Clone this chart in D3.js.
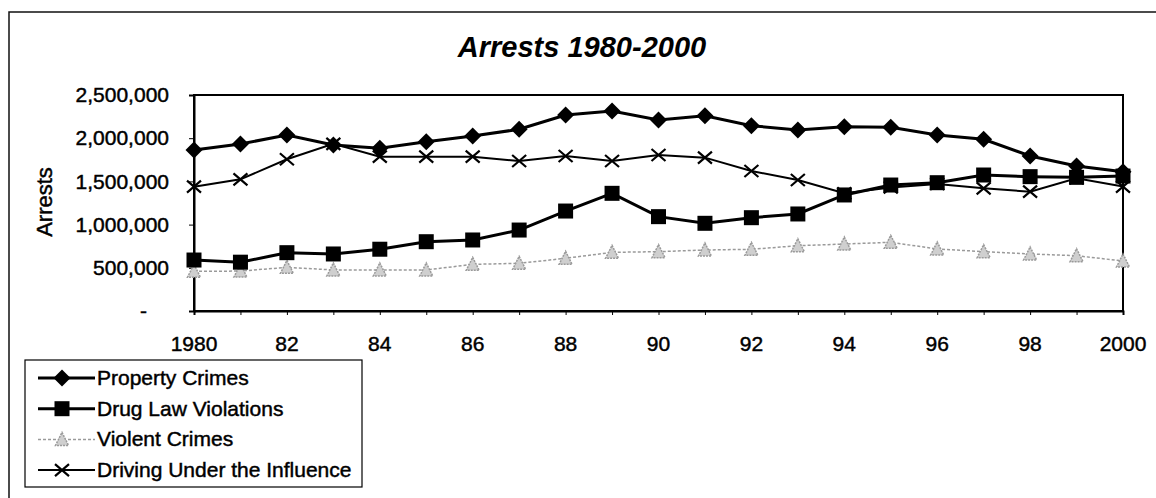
<!DOCTYPE html>
<html>
<head>
<meta charset="utf-8">
<script src="https://cdn.jsdelivr.net/npm/d3@7"></script>
<style>
  body { margin: 0; background: #fff; }
  svg { display: block; font-family: "Liberation Sans", Arial, sans-serif; }
  .scan { stroke: #000; stroke-width: 0.45px; }
</style>
</head>
<body>
<svg width="1156" height="498"></svg>
<script>
// data
const years = [1980,1981,1982,1983,1984,1985,1986,1987,1988,1989,1990,1991,1992,1993,1994,1995,1996,1997,1998,1999,2000];
const propertyCrimes = [1863000,1933000,2037000,1921000,1883000,1960000,2025000,2103000,2268000,2315000,2210000,2260000,2145000,2095000,2133000,2126000,2037000,1987000,1794000,1678000,1612000];
const drugViolations = [590000,565000,675000,660000,715000,802000,822000,937000,1157000,1362000,1092000,1015000,1080000,1123000,1343000,1458000,1485000,1574000,1555000,1547000,1562000];
const violentCrimes = [460000,462000,505000,475000,475000,475000,540000,552000,610000,679000,687000,706000,714000,756000,775000,795000,718000,687000,660000,640000,579000];
const duiArrests = [1439000,1524000,1756000,1935000,1786000,1786000,1786000,1736000,1794000,1736000,1806000,1775000,1620000,1516000,1362000,1430000,1470000,1420000,1381000,1536000,1440000];
const yTicks = [0,500000,1000000,1500000,2000000,2500000];
const xLabelYears = [1980,1982,1984,1986,1988,1990,1992,1994,1996,1998,2000];
const xLabels = ["1980","82","84","86","88","90","92","94","96","98","2000"];

const series = [
  {name:"Property Crimes", values:propertyCrimes, marker:"diamond", color:"#000", width:3, dash:null},
  {name:"Drug Law Violations", values:drugViolations, marker:"square", color:"#000", width:3, dash:null},
  {name:"Violent Crimes", values:violentCrimes, marker:"triangle", color:"#9a9a9a", width:1.5, dash:"3,2"},
  {name:"Driving Under the Influence", values:duiArrests, marker:"x", color:"#000", width:2, dash:null}
];

const svg = d3.select("svg");
const plot = {left:194, right:1123, top:95, bottom:311};

// outer chart frame (only top and left edges visible in the scan)
svg.append("rect")
  .attr("x", 9).attr("y", 12)
  .attr("width", 1300).attr("height", 700)
  .attr("fill", "none").attr("stroke", "#111").attr("stroke-width", 1.5);

const x = d3.scaleLinear().domain([1980, 2000]).range([plot.left, plot.right]);
const y = d3.scaleLinear().domain([0, 2500000]).range([plot.bottom, plot.top]);

// title
svg.append("text")
  .attr("x", 582).attr("y", 57)
  .attr("text-anchor", "middle")
  .attr("font-size", "29px").attr("font-weight", "bold").attr("font-style", "italic")
  .text("Arrests 1980-2000");

// y label
svg.append("text")
  .attr("class", "scan")
  .attr("transform", "translate(52,202) rotate(-90)")
  .attr("text-anchor", "middle")
  .attr("font-size", "22px")
  .text("Arrests");

// plot area border (top and right)
svg.append("rect")
  .attr("x", plot.left).attr("y", plot.top)
  .attr("width", plot.right - plot.left).attr("height", plot.bottom - plot.top)
  .attr("fill", "none").attr("stroke", "#000").attr("stroke-width", 2);

// y axis
const yAxis = svg.append("g")
  .attr("transform", `translate(${plot.left},0)`)
  .call(d3.axisLeft(y).tickValues(yTicks).tickSize(5).tickPadding(20)
    .tickFormat(d => d === 0 ? "-" : d3.format(",")(d)));
yAxis.select(".domain").attr("stroke-width", 2);
yAxis.selectAll("text").attr("class", "scan").attr("font-size", "21px").attr("fill", "#000")
  .attr("dx", d => d === 0 ? -22 : 0);

// x axis
const xAxis = svg.append("g")
  .attr("transform", `translate(0,${plot.bottom})`)
  .call(d3.axisBottom(x).tickValues(years).tickSize(4).tickFormat(""));
xAxis.select(".domain").attr("stroke-width", 2);
svg.append("g").selectAll("text")
  .data(xLabelYears)
  .enter().append("text")
  .attr("class", "scan")
  .attr("x", d => x(d))
  .attr("y", 351)
  .attr("text-anchor", "middle")
  .attr("font-size", "21px")
  .text((d, i) => xLabels[i]);

// marker drawing
function drawMarker(g, type, color) {
  if (type === "diamond") {
    g.append("path").attr("d", "M0,-8.5L8.5,0L0,8.5L-8.5,0Z").attr("fill", color);
  } else if (type === "square") {
    g.append("rect").attr("x", -7.5).attr("y", -7.5).attr("width", 15).attr("height", 15).attr("fill", color);
  } else if (type === "triangle") {
    g.append("path").attr("d", "M0,-7L6.5,6L-6.5,6Z")
      .attr("fill", "#cfcfcf").attr("stroke", color).attr("stroke-width", 1.5).attr("stroke-dasharray", "2,1");
  } else if (type === "x") {
    g.append("path").attr("d", "M-7,-6L7,6M-7,6L7,-6")
      .attr("stroke", color).attr("stroke-width", 2.2).attr("fill", "none");
  }
}

const line = d3.line().x((d, i) => x(years[i])).y(d => y(d));

// draw violent first so black lines sit on top
const order = [2, 3, 1, 0];
order.forEach(k => {
  const s = series[k];
  svg.append("path")
    .datum(s.values)
    .attr("d", line)
    .attr("fill", "none")
    .attr("stroke", s.color)
    .attr("stroke-width", s.width)
    .attr("stroke-dasharray", s.dash);
  svg.append("g").selectAll("g")
    .data(s.values)
    .enter().append("g")
    .attr("transform", (d, i) => `translate(${x(years[i])},${y(d)})`)
    .each(function() { drawMarker(d3.select(this), s.marker, s.color); });
});

// legend
const legend = svg.append("g");
legend.append("rect")
  .attr("x", 25).attr("y", 360).attr("width", 337).attr("height", 127)
  .attr("fill", "#fff").attr("stroke", "#000").attr("stroke-width", 1.2);
series.forEach((s, i) => {
  const ly = 378 + i * 30.7;
  legend.append("line")
    .attr("x1", 38).attr("x2", 95).attr("y1", ly).attr("y2", ly)
    .attr("stroke", s.color).attr("stroke-width", s.width).attr("stroke-dasharray", s.dash);
  drawMarker(legend.append("g").attr("transform", `translate(62,${ly})`), s.marker, s.color);
  legend.append("text")
    .attr("class", "scan")
    .attr("x", 97).attr("y", ly + 7)
    .attr("font-size", "21px")
    .text(s.name);
});
</script>
</body>
</html>
